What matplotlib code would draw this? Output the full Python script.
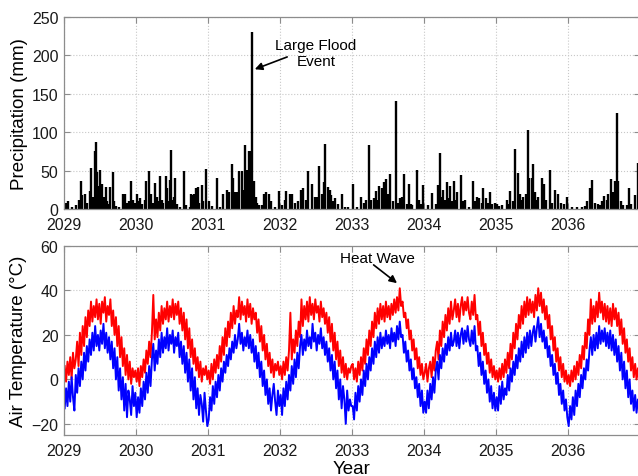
import numpy as np
import matplotlib
matplotlib.use("Agg")
import matplotlib.pyplot as plt

plt.rcParams['font.family'] = ['Liberation Sans', 'DejaVu Sans']

# daily precipitation events: time in years after 1 Jan 2029, amount in mm
precip_t = [
    0.00, 0.03, 0.06, 0.11, 0.17, 0.21, 0.23, 0.25, 0.29, 0.32, 0.36, 0.375, 0.40, 0.43, 0.44,
    0.46, 0.48, 0.50, 0.51, 0.53, 0.56, 0.58, 0.60, 0.625, 0.64, 0.68, 0.70, 0.72, 0.76, 0.82,
    0.85, 0.875, 0.90, 0.93, 0.96, 0.98,
    1.01, 1.03, 1.06, 1.08, 1.125, 1.14, 1.18, 1.19, 1.21, 1.24, 1.27, 1.29, 1.32, 1.34, 1.36,
    1.38, 1.41, 1.43, 1.44, 1.47, 1.49, 1.51, 1.53, 1.54, 1.57, 1.61, 1.67, 1.69, 1.75, 1.76,
    1.78, 1.81, 1.83, 1.86, 1.875, 1.91, 1.93, 1.97,
    2.01, 2.06, 2.12, 2.17, 2.21, 2.26, 2.29, 2.33, 2.35, 2.375, 2.40, 2.43, 2.47, 2.49, 2.51,
    2.54, 2.57, 2.59, 2.615, 2.64, 2.66, 2.68, 2.71, 2.745, 2.78, 2.81, 2.85, 2.88, 2.93, 2.99,
    3.03, 3.07, 3.09, 3.14, 3.17, 3.21, 3.25, 3.29, 3.32, 3.36, 3.39, 3.44, 3.48, 3.51, 3.54,
    3.58, 3.615, 3.63, 3.66, 3.69, 3.71, 3.74, 3.77, 3.81, 3.86, 3.90, 3.95,
    4.02, 4.065, 4.13, 4.17, 4.19, 4.23, 4.25, 4.27, 4.31, 4.33, 4.36, 4.38, 4.41, 4.44, 4.47,
    4.50, 4.53, 4.565, 4.61, 4.635, 4.66, 4.69, 4.72, 4.76, 4.79, 4.82, 4.84, 4.90, 4.935, 4.96,
    4.99, 5.05, 5.11, 5.17, 5.20, 5.22, 5.245, 5.27, 5.29, 5.315, 5.34, 5.36, 5.39, 5.42, 5.44,
    5.46, 5.51, 5.54, 5.57, 5.63, 5.685, 5.71, 5.73, 5.77, 5.80, 5.82, 5.86, 5.89, 5.92, 5.95,
    5.99, 6.01, 6.04, 6.09, 6.15, 6.17, 6.20, 6.23, 6.27, 6.30, 6.33, 6.36, 6.38, 6.41, 6.44,
    6.46, 6.495, 6.52, 6.54, 6.565, 6.59, 6.635, 6.67, 6.70, 6.75, 6.78, 6.82, 6.86, 6.90, 6.95,
    6.99, 7.05, 7.12, 7.19, 7.24, 7.27, 7.31, 7.34, 7.375, 7.41, 7.44, 7.47, 7.50, 7.535, 7.56,
    7.60, 7.615, 7.63, 7.65, 7.675, 7.70, 7.73, 7.77, 7.815, 7.85, 7.88, 7.93, 7.97, 7.99,
]
precip_mm = [
    5, 8, 11, 3, 5, 12, 36, 18, 20, 8, 24, 53, 15, 76, 87,
    48, 30, 51, 20, 33, 15, 29, 10, 6, 28, 48, 10, 4, 2, 20,
    20, 8, 10, 37, 12, 8,
    19, 10, 14, 6, 12, 36, 49, 12, 20, 8, 34, 15, 10, 43, 12,
    8, 43, 27, 10, 38, 77, 12, 15, 40, 6, 3, 50, 5, 2, 20,
    18, 20, 27, 28, 8, 31, 10, 52,
    10, 4, 41, 3, 20, 25, 22, 58, 41, 22, 22, 50, 50, 25, 83,
    51, 75, 75, 230, 36, 15, 8, 5, 5, 20, 22, 20, 10, 3, 23,
    5, 12, 23, 20, 20, 8, 10, 25, 27, 12, 50, 33, 15, 15, 56,
    20, 35, 84, 29, 25, 18, 10, 14, 6, 20, 3, 2,
    33, 3, 16, 8, 12, 83, 10, 12, 14, 23, 12, 30, 27, 35, 39,
    20, 46, 10, 141, 8, 14, 16, 45, 6, 32, 6, 5, 51, 12, 6,
    31, 5, 21, 6, 31, 73, 15, 25, 12, 35, 14, 30, 10, 37, 12,
    22, 44, 10, 12, 3, 37, 10, 15, 14, 8, 27, 14, 8, 22, 6,
    8, 6, 4, 5, 12, 6, 24, 10, 78, 47, 20, 12, 15, 20, 103,
    40, 41, 58, 22, 12, 15, 40, 33, 12, 51, 8, 25, 20, 8, 6,
    15, 2, 2, 2, 4, 10, 27, 38, 8, 6, 5, 10, 17, 12, 20,
    39, 15, 22, 37, 125, 37, 10, 5, 5, 27, 6, 18, 60, 49,
]

years = [2029, 2030, 2031, 2032, 2033, 2034, 2035, 2036]

# weekly max air temperature (deg C), one row per year
tmax_rows = [
    [6, -1, 8, 2, 10, 0, 12, 5, 9, 17, 6, 21, 11, 24, 15, 28, 19, 31, 24, 35, 26, 33, 28, 36, 27, 34,
     25, 35, 30, 37, 26, 33, 29, 36, 24, 31, 20, 28, 15, 24, 10, 19, 6, 14, 2, 11, 0, 8, -2, 5, 1, 4],
    [-1, 5, -3, 6, 1, 9, 3, 13, 7, 17, 10, 21, 38, 18, 27, 19, 30, 22, 33, 25, 32, 27, 35, 26, 33, 28,
     36, 27, 34, 29, 35, 25, 32, 22, 30, 18, 27, 14, 23, 10, 18, 7, 14, 4, 10, 1, 8, -1, 5, 2, 6, 0],
    [4, -2, 7, 0, 9, 3, 11, 5, 15, 8, 19, 11, 23, 15, 26, 19, 30, 23, 33, 25, 31, 28, 37, 27, 35, 29,
     33, 26, 36, 28, 34, 25, 32, 27, 30, 21, 27, 17, 24, 13, 20, 9, 16, 6, 12, 3, 9, 1, 7, 4, 8, 2],
    [6, 0, 8, 2, 10, 4, 13, 30, 9, 18, 12, 22, 15, 26, 19, 36, 24, 33, 27, 35, 26, 37, 29, 34, 27, 36,
     30, 33, 26, 35, 28, 32, 25, 30, 21, 28, 17, 25, 13, 21, 9, 17, 6, 13, 3, 10, 1, 7, 0, 5, 3, 6],
    [7, 0, 5, -1, 8, 2, 10, 4, 14, 7, 18, 11, 22, 15, 26, 19, 30, 23, 32, 25, 34, 27, 33, 26, 35, 28,
     33, 27, 34, 29, 36, 30, 37, 31, 41, 33, 35, 28, 30, 23, 27, 18, 22, 13, 18, 9, 14, 5, 10, 2, 7, 0],
    [3, 7, -1, 5, 8, 1, 10, 4, 13, 17, 9, 22, 15, 26, 19, 29, 22, 32, 25, 35, 27, 31, 36, 28, 34, 26,
     33, 37, 29, 35, 31, 37, 30, 27, 35, 29, 38, 27, 29, 20, 26, 15, 21, 11, 16, 7, 12, 3, 9, 1, 6, 0],
    [4, -1, 5, 0, 7, 1, 9, 3, 12, 5, 16, 9, 21, 14, 25, 18, 29, 23, 33, 25, 35, 28, 37, 29, 36, 30,
     35, 28, 38, 31, 41, 33, 39, 30, 36, 27, 33, 23, 29, 18, 24, 13, 19, 8, 14, 4, 10, 1, 7, -1, 4, -2],
    [2, -3, 4, -1, 6, 0, 8, 2, 11, 5, 15, 9, 21, 14, 27, 20, 36, 25, 33, 26, 35, 28, 39, 30, 35, 27,
     34, 26, 33, 25, 32, 24, 34, 27, 32, 24, 30, 20, 27, 16, 23, 12, 18, 8, 14, 4, 10, 1, 7, 0, 5, -1],
]
# weekly min air temperature (deg C), one row per year
tmin_rows = [
    [-13, -4, -12, -1, -10, 1, -8, -14, 2, -6, 5, -3, 8, 0, 12, 4, 15, 8, 18, 11, 21, 13, 24, 15, 20, 13,
     22, 16, 25, 14, 21, 12, 19, 9, 17, 5, 14, 0, 10, -5, 5, -9, 1, -14, -2, -17, -5, -9, -16, -3, -12, -6],
    [-17, -8, -15, -4, -12, -1, -9, 3, -6, 6, -3, 9, 16, 4, 13, 7, 18, 10, 21, 12, 19, 14, 23, 13, 20, 16,
     22, 12, 19, 15, 21, 10, 17, 7, 15, 3, 12, -1, 9, -5, 5, -9, 1, -13, -4, -16, -7, -11, -19, -6, -14, -21],
    [-18, -8, -14, -3, -11, -1, -8, 2, -5, 5, -1, 8, 3, 11, 6, 14, 9, 17, 12, 20, 14, 18, 25, 16, 21, 13,
     19, 15, 22, 14, 20, 12, 18, 8, 15, 5, 12, 1, 8, -3, 4, -7, 0, -11, -4, -14, -7, -2, -10, -16, -5, -12],
    [-7, -16, -4, -12, -1, -9, 2, -5, 6, -2, 9, 1, 12, 5, 15, 20, 11, 18, 13, 22, 15, 19, 14, 25, 17, 21,
     13, 20, 16, 23, 14, 19, 11, 17, 8, 14, 4, 11, 0, 8, -4, 4, -9, 0, -13, -3, -9, -20, -5, -14, -9, -12],
    [-12, -18, -6, -14, -3, -10, 0, -7, 4, -3, 7, 0, 10, 4, 14, 7, 17, 10, 19, 12, 21, 14, 19, 15, 22, 16,
     20, 14, 23, 17, 21, 15, 24, 18, 26, 19, 20, 12, 17, 8, 13, 4, 9, 0, 5, -4, 1, -8, -2, -12, -5, -15],
    [-10, -15, -5, -13, -2, -9, 1, -6, 4, 8, 0, 11, 5, 14, 8, 16, 11, 19, 13, 21, 15, 17, 22, 15, 21, 14,
     20, 23, 16, 22, 17, 24, 18, 15, 22, 16, 24, 13, 15, 6, 12, 2, 8, -2, 4, -6, 0, -10, -3, -13, -6, -14],
    [-8, -14, -3, -11, -1, -9, -4, -7, 2, -5, 5, -1, 8, 2, 11, 5, 14, 8, 17, 10, 19, 12, 21, 14, 22, 15,
     21, 24, 17, 23, 28, 19, 25, 17, 22, 14, 19, 10, 15, 6, 11, 2, 7, -2, 3, -7, -2, -11, -5, -14, -9, -17],
    [-21, -12, -18, -8, -16, -5, -12, -2, -8, 2, -4, 5, 0, 9, 4, 13, 19, 11, 20, 13, 21, 14, 24, 16, 22, 17,
     23, 15, 21, 14, 22, 13, 20, 11, 18, 8, 15, 4, 12, 0, 8, -4, 4, -8, 0, -11, -5, -14, -7, -15, -9, -13],
]


def row_times(rows):
    # spread each year's weekly values evenly over that year
    return np.concatenate([y + (np.arange(len(r)) + 0.5) / len(r) for y, r in zip(years, rows)])


t_max = row_times(tmax_rows)
t_min = row_times(tmin_rows)
tmax = np.concatenate(tmax_rows)
tmin = np.concatenate(tmin_rows)
t_rain = years[0] + np.array(precip_t)

spine_col = '#8c8c8c'
arrow_kw = dict(arrowstyle='-|>', color='k', lw=1.2, mutation_scale=11, shrinkA=0, shrinkB=0)


def style_axes(ax):
    ax.grid(True, color='#c8c8c8', linestyle=':', linewidth=0.8)
    ax.set_axisbelow(True)
    for s in ax.spines.values():
        s.set_color(spine_col)
        s.set_linewidth(0.9)
    ax.tick_params(direction='in', top=True, right=True, length=4,
                   color=spine_col, labelsize=11.5, labelcolor='#1a1a1a', pad=4)
    ax.tick_params(axis='x', pad=6)
    ax.set_xlim(2029, 2037)
    ax.set_xticks(years)


fig = plt.figure(figsize=(6.38, 4.77), dpi=100)

ax1 = fig.add_axes([64/638, 1 - 210/477, 576/638, 192/477])
ax1.vlines(t_rain, 0, precip_mm, color='k', linewidth=1.7)
style_axes(ax1)
ax1.set_ylim(0, 250)
ax1.set_yticks([0, 50, 100, 150, 200, 250])
ax1.set_ylabel('Precipitation (mm)', fontsize=13.5, labelpad=3)
ax1.text(2032.5, 203, 'Large Flood\nEvent', ha='center', va='center', fontsize=11,
         multialignment='center')
ax1.annotate('', xy=(2031.65, 182), xytext=(2032.1, 198), arrowprops=arrow_kw)

ax2 = fig.add_axes([64/638, 1 - 436/477, 576/638, 189/477])
ax2.plot(t_max, tmax, color='#ff0000', linewidth=1.4)
ax2.plot(t_min, tmin, color='#0000ff', linewidth=1.4)
style_axes(ax2)
ax2.set_ylim(-25, 60)
ax2.set_yticks([-20, 0, 20, 40, 60])
ax2.set_ylabel('Air Temperature (°C)', fontsize=13.5, labelpad=3)
ax2.set_xlabel('Year', fontsize=13.5, labelpad=1)
ax2.text(2033.35, 54.5, 'Heat Wave', ha='center', va='center', fontsize=11)
ax2.annotate('', xy=(2033.625, 43.3), xytext=(2033.3, 51.5), arrowprops=arrow_kw)

fig.savefig('out.png', dpi=100)
